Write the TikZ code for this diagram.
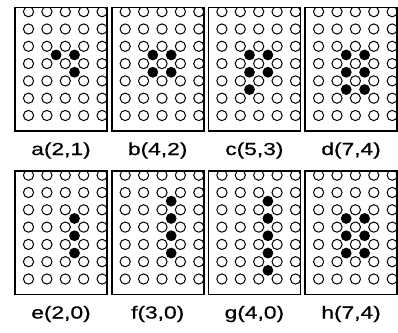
\documentclass[tikz,border=0pt]{standalone}
\usepackage{fontspec}
\setmainfont{Liberation Sans}
\newfontfamily\tagfont[FakeBold=0.6]{Liberation Sans}
\usepackage{graphicx}
\usepackage{tikz}
\usetikzlibrary{positioning}
\tikzstyle{hole} = [draw=black, line width=1pt, fill=white]
\tikzstyle{bead} = [fill=black]

\begin{document}
\begin{tikzpicture}[x=1pt, y=-1pt,
    panelbox/.style={rectangle, minimum width=92pt, minimum height=123.5pt, inner sep=0pt, outer sep=0pt},
    frame/.style={draw=black, line width=1.7pt},
    tag/.style={font=\tagfont\fontsize{17.5}{19}\selectfont, inner sep=0pt}
  ]
    \useasboundingbox (0,0) rectangle (398,332);

    \foreach \n/\lx/\ty/\t/\b in {
        a/15/7.5/{a(2,1)}/{1.5/2.5,2.5/2.5,2.5/3.5},
        b/111.7/7.5/{b(4,2)}/{1.5/2.5,2.5/2.5,1.5/3.5,2.5/3.5},
        c/208.4/7.5/{c(5,3)}/{1.5/2.5,2.5/2.5,1.5/3.5,2.5/3.5,1.5/4.5},
        d/305.1/7.5/{d(7,4)}/{1.5/2.5,2.5/2.5,1.5/3.5,2.5/3.5,1.5/4.5,2.5/4.5},
        e/15/171/{e(2,0)}/{2.5/2.5,2.5/3.5,2.5/4.5},
        f/111.7/171/{f(3,0)}/{2.5/1.5,2.5/2.5,2.5/3.5,2.5/4.5},
        g/208.4/171/{g(4,0)}/{2.5/1.5,2.5/2.5,2.5/3.5,2.5/4.5,2.5/5.5},
        h/305.1/171/{h(7,4)}/{1.5/2.5,2.5/2.5,1.5/3.5,2.5/3.5,1.5/4.5,2.5/4.5}} {
      \node[panelbox, anchor=north west] (\n) at (\lx,\ty) {};
      \begin{scope}
        \clip (\n.north west) rectangle (\n.south east);
        % empty sites
        \foreach \i in {0,...,4}
          \foreach \j in {0,...,6}
            \draw[hole] (\lx+13.5+18.4*\i, \ty+4.2+17.3*\j) circle[radius=5.1];
        % occupied sites
        \foreach \bx/\by in \b
          \fill[bead] (\lx+13.5+18.4*\bx, \ty+4.2+17.3*\by) circle[radius=5.4];
      \end{scope}
      \draw[frame] (\n.north west) rectangle (\n.south east);
      \node[tag] (\n-tag) at (\lx+46, \ty+143) {\scalebox{1.3}[1]{\t}};
    }
  \end{tikzpicture}
\end{document}
